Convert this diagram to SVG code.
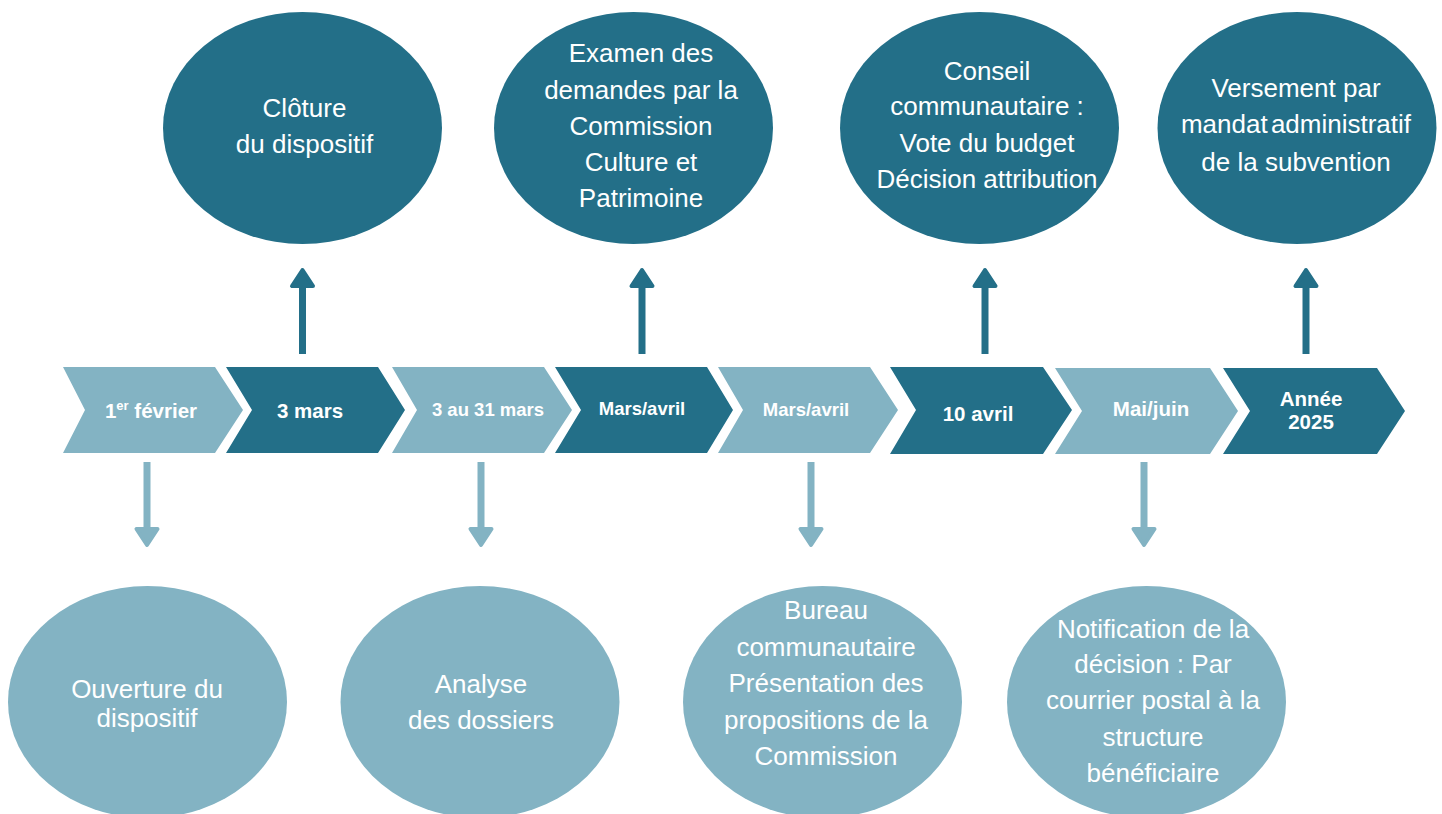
<svg xmlns="http://www.w3.org/2000/svg" width="1442" height="814" viewBox="0 0 1442 814">
<style>
.dk{fill:#236F88}
.lt{fill:#83B3C3}
.t{font-family:"Liberation Sans",Arial,sans-serif;fill:#fff;text-anchor:middle}
.big{font-size:26px}
.cb{font-weight:bold;font-size:20.5px}
.cs{font-weight:bold;font-size:18.5px}
.au{stroke:#236F88;stroke-width:7;fill:none}
.ad{stroke:#83B3C3;stroke-width:7;fill:none}
.hu{fill:#236F88;stroke:#236F88;stroke-width:4;stroke-linejoin:round}
.hd{fill:#83B3C3;stroke:#83B3C3;stroke-width:4;stroke-linejoin:round}
</style>
<rect width="1442" height="814" fill="#fff"/>

<g id="connectors">
  <line class="au" x1="302.5" y1="354" x2="302.5" y2="284"/>
  <polygon class="hu" points="302.5,270 292,286 313,286"/>
  <line class="au" x1="642" y1="354" x2="642" y2="284"/>
  <polygon class="hu" points="642,270 631.5,286 652.5,286"/>
  <line class="au" x1="985" y1="354" x2="985" y2="284"/>
  <polygon class="hu" points="985,270 974.5,286 995.5,286"/>
  <line class="au" x1="1306" y1="354" x2="1306" y2="284"/>
  <polygon class="hu" points="1306,270 1295.5,286 1316.5,286"/>

  <line class="ad" x1="147" y1="462" x2="147" y2="531"/>
  <polygon class="hd" points="147,545 136.5,529 157.5,529"/>
  <line class="ad" x1="481" y1="462" x2="481" y2="531"/>
  <polygon class="hd" points="481,545 470.5,529 491.5,529"/>
  <line class="ad" x1="811" y1="462" x2="811" y2="531"/>
  <polygon class="hd" points="811,545 800.5,529 821.5,529"/>
  <line class="ad" x1="1144" y1="462" x2="1144" y2="531"/>
  <polygon class="hd" points="1144,545 1133.5,529 1154.5,529"/>
</g>

<g id="chevron-1">
  <polygon class="lt" points="63,367 215,367 243,410 215,453 63,453 85,410"/>
  <text class="t cb" x="151" y="418">1<tspan font-size="13" dy="-8">er</tspan><tspan dy="8"> février</tspan></text>
</g>
<g id="chevron-2">
  <polygon class="dk" points="226,367 378,367 405,410 378,453 226,453 252,410"/>
  <text class="t cb" x="310" y="418">3 mars</text>
</g>
<g id="chevron-3">
  <polygon class="lt" points="392,367 544,367 572,410 544,453 392,453 417,410"/>
  <text class="t cs" x="488" y="416">3 au 31 mars</text>
</g>
<g id="chevron-4">
  <polygon class="dk" points="555,367 707,367 733,410 707,453 555,453 581,410"/>
  <text class="t cs" x="642" y="415">Mars/avril</text>
</g>
<g id="chevron-5">
  <polygon class="lt" points="718,367 870,367 898,410 870,453 718,453 743,410"/>
  <text class="t cs" x="806" y="416">Mars/avril</text>
</g>
<g id="chevron-6">
  <polygon class="dk" points="890,367 1043,367 1072,410 1043,454 890,454 916,410"/>
  <text class="t cb" x="978" y="421">10 avril</text>
</g>
<g id="chevron-7">
  <polygon class="lt" points="1055,368 1210,368 1238,411 1210,454 1055,454 1082,411"/>
  <text class="t cb" x="1151" y="416">Mai/juin</text>
</g>
<g id="chevron-8">
  <polygon class="dk" points="1223,368 1377,368 1405,411 1377,454 1223,454 1250,411"/>
  <text class="t cb" x="1311" y="406">Année</text>
  <text class="t cb" x="1311" y="429">2025</text>
</g>

<g id="node-cloture">
  <ellipse class="dk" cx="302.5" cy="128" rx="139.5" ry="116"/>
  <text class="t big" x="304.5" y="117">Clôture</text>
  <text class="t big" x="304.5" y="153">du dispositif</text>
</g>
<g id="node-examen">
  <ellipse class="dk" cx="633.5" cy="128" rx="139.5" ry="116"/>
  <text class="t big" x="641" y="62">Examen des</text>
  <text class="t big" x="641" y="99">demandes par la</text>
  <text class="t big" x="641" y="135">Commission</text>
  <text class="t big" x="641" y="171">Culture et</text>
  <text class="t big" x="641" y="207">Patrimoine</text>
</g>
<g id="node-conseil">
  <ellipse class="dk" cx="979.5" cy="128" rx="139.5" ry="116"/>
  <text class="t big" x="987" y="80">Conseil</text>
  <text class="t big" x="987" y="115">communautaire :</text>
  <text class="t big" x="987" y="152">Vote du budget</text>
  <text class="t big" x="987" y="188">Décision attribution</text>
</g>
<g id="node-versement">
  <ellipse class="dk" cx="1297" cy="128" rx="139.5" ry="116"/>
  <text class="t big" x="1296" y="97">Versement par</text>
  <text class="t big" x="1296" y="133" word-spacing="-4">mandat administratif</text>
  <text class="t big" x="1296" y="171">de la subvention</text>
</g>

<g id="node-ouverture">
  <ellipse class="lt" cx="147.5" cy="702" rx="139.5" ry="116"/>
  <text class="t big" x="147" y="698">Ouverture du</text>
  <text class="t big" x="147" y="727">dispositif</text>
</g>
<g id="node-analyse">
  <ellipse class="lt" cx="480" cy="702" rx="139.5" ry="116"/>
  <text class="t big" x="481" y="693">Analyse</text>
  <text class="t big" x="481" y="729">des dossiers</text>
</g>
<g id="node-bureau">
  <ellipse class="lt" cx="822.5" cy="702" rx="139.5" ry="116"/>
  <text class="t big" x="826" y="619">Bureau</text>
  <text class="t big" x="826" y="656">communautaire</text>
  <text class="t big" x="826" y="692">Présentation des</text>
  <text class="t big" x="826" y="729">propositions de la</text>
  <text class="t big" x="826" y="765">Commission</text>
</g>
<g id="node-notification">
  <ellipse class="lt" cx="1146.5" cy="702" rx="139.5" ry="116"/>
  <text class="t big" x="1153" y="638">Notification de la</text>
  <text class="t big" x="1153" y="673">décision : Par</text>
  <text class="t big" x="1153" y="709">courrier postal à la</text>
  <text class="t big" x="1153" y="746">structure</text>
  <text class="t big" x="1153" y="782">bénéficiaire</text>
</g>
</svg>
